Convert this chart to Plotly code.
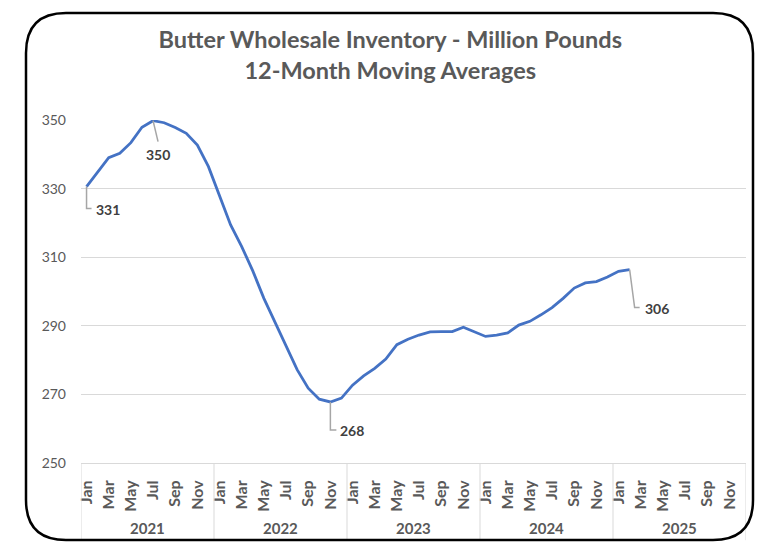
import plotly.graph_objects as go

# 12-month moving average, butter wholesale inventory (million lbs), Jan 2021 - Feb 2025
years = ["2021", "2022", "2023", "2024", "2025"]
month_names = ["Jan", "Feb", "Mar", "Apr", "May", "Jun",
               "Jul", "Aug", "Sep", "Oct", "Nov", "Dec"]
inv_2021 = [330.6, 334.8, 339.0, 340.3, 343.4, 347.9, 349.8, 349.2, 347.8, 346.1, 342.7, 336.4]
inv_2022 = [327.6, 319.4, 313.1, 306.0, 298.0, 291.0, 284.0, 277.2, 271.8, 268.6, 267.8, 268.9]
inv_2023 = [272.7, 275.4, 277.6, 280.3, 284.5, 286.1, 287.3, 288.2, 288.3, 288.3, 289.6, 288.2]
inv_2024 = [286.9, 287.3, 287.9, 290.2, 291.3, 293.2, 295.3, 298.0, 301.0, 302.5, 302.9, 304.2]
inv_2025 = [305.9, 306.4]

# which points carry a data label, and the pixel offsets of label / leader line
label_idx = [0, 6, 22, 49]
label_shift = [(21, -23), (5, -34), (22, -29), (27, -39)]
leader_paths = ["M0,0 V-22 H5", "M0,0 L5,-21", "M0,0 V-28 H6", "M0,0 L5,-38 H10"]

values = inv_2021 + inv_2022 + inv_2023 + inv_2024 + inv_2025
x = list(range(len(values)))
n_slots = 12 * len(years)

GREY = "#595959"
FONT = "Lato"

fig = go.Figure()
fig.add_trace(go.Scatter(x=x, y=values, mode="lines",
                         line=dict(color="#4472C4", width=2.8),
                         hoverinfo="skip", showlegend=False))

for i, (dx, dy), p in zip(label_idx, label_shift, leader_paths):
    fig.add_shape(type="path", xref="x", yref="y",
                  xsizemode="pixel", ysizemode="pixel",
                  xanchor=i, yanchor=values[i], path=p,
                  line=dict(color="#a6a6a6", width=1.5))
    fig.add_annotation(x=i, y=values[i], text=f"<b>{values[i]:.0f}</b>",
                       showarrow=False, xshift=dx, yshift=dy,
                       font=dict(family=FONT, size=14, color="#404040"))

# year separators and year labels under the month ticks
for k, yr in enumerate(years + [None]):
    fig.add_shape(type="line", xref="x", yref="paper",
                  x0=12 * k - 0.5, x1=12 * k - 0.5, y0=0, y1=-0.225,
                  line=dict(color="#d9d9d9", width=1))
    if yr:
        fig.add_annotation(x=12 * k + 5.5, y=-0.19, xref="x", yref="paper",
                           yanchor="middle", text=f"<b>{yr}</b>", showarrow=False,
                           font=dict(family=FONT, size=15, color=GREY))

# rounded frame around the whole chart
L, R, T, B, r = -55, 672, 450, -77, 40
frame = (f"M{L + r},{T} H{R - r} Q{R},{T} {R},{T - r} V{B + r} "
         f"Q{R},{B} {R - r},{B} H{L + r} Q{L},{B} {L},{B + r} "
         f"V{T - r} Q{L},{T} {L + r},{T} Z")
fig.add_shape(type="path", xref="paper", yref="paper",
              xsizemode="pixel", ysizemode="pixel", xanchor=0, yanchor=0,
              path=frame, line=dict(color="black", width=2.5))

tick_vals = list(range(0, n_slots, 2))
tick_text = [f"<b>{month_names[v % 12]}</b>" for v in tick_vals]

# page body has an 8px margin, so the figure is 8px smaller than the window
fig.update_layout(
    width=766, height=552,
    paper_bgcolor="white", plot_bgcolor="white",
    margin=dict(l=73, r=28, t=112, b=97),
    title=dict(text="<b>Butter Wholesale Inventory - Million Pounds<br>12-Month Moving Averages</b>",
               x=0.499, xanchor="center", y=0.927, yanchor="top",
               font=dict(family=FONT, size=23.5, color=GREY)),
    xaxis=dict(range=[-0.5, n_slots - 0.5], tickvals=tick_vals, ticktext=tick_text,
               tickangle=-90, showgrid=False, zeroline=False,
               showline=True, linecolor="#d9d9d9", linewidth=1,
               ticks="", ticklabelstandoff=10,
               tickfont=dict(family=FONT, size=16, color=GREY)),
    yaxis=dict(range=[250, 350], dtick=20, tick0=250,
               showgrid=True, gridcolor="#d9d9d9", gridwidth=1,
               zeroline=False, showline=False, ticks="",
               ticklabelstandoff=14,
               tickfont=dict(family=FONT, size=14, color=GREY)),
)

fig.write_html("out.html")
